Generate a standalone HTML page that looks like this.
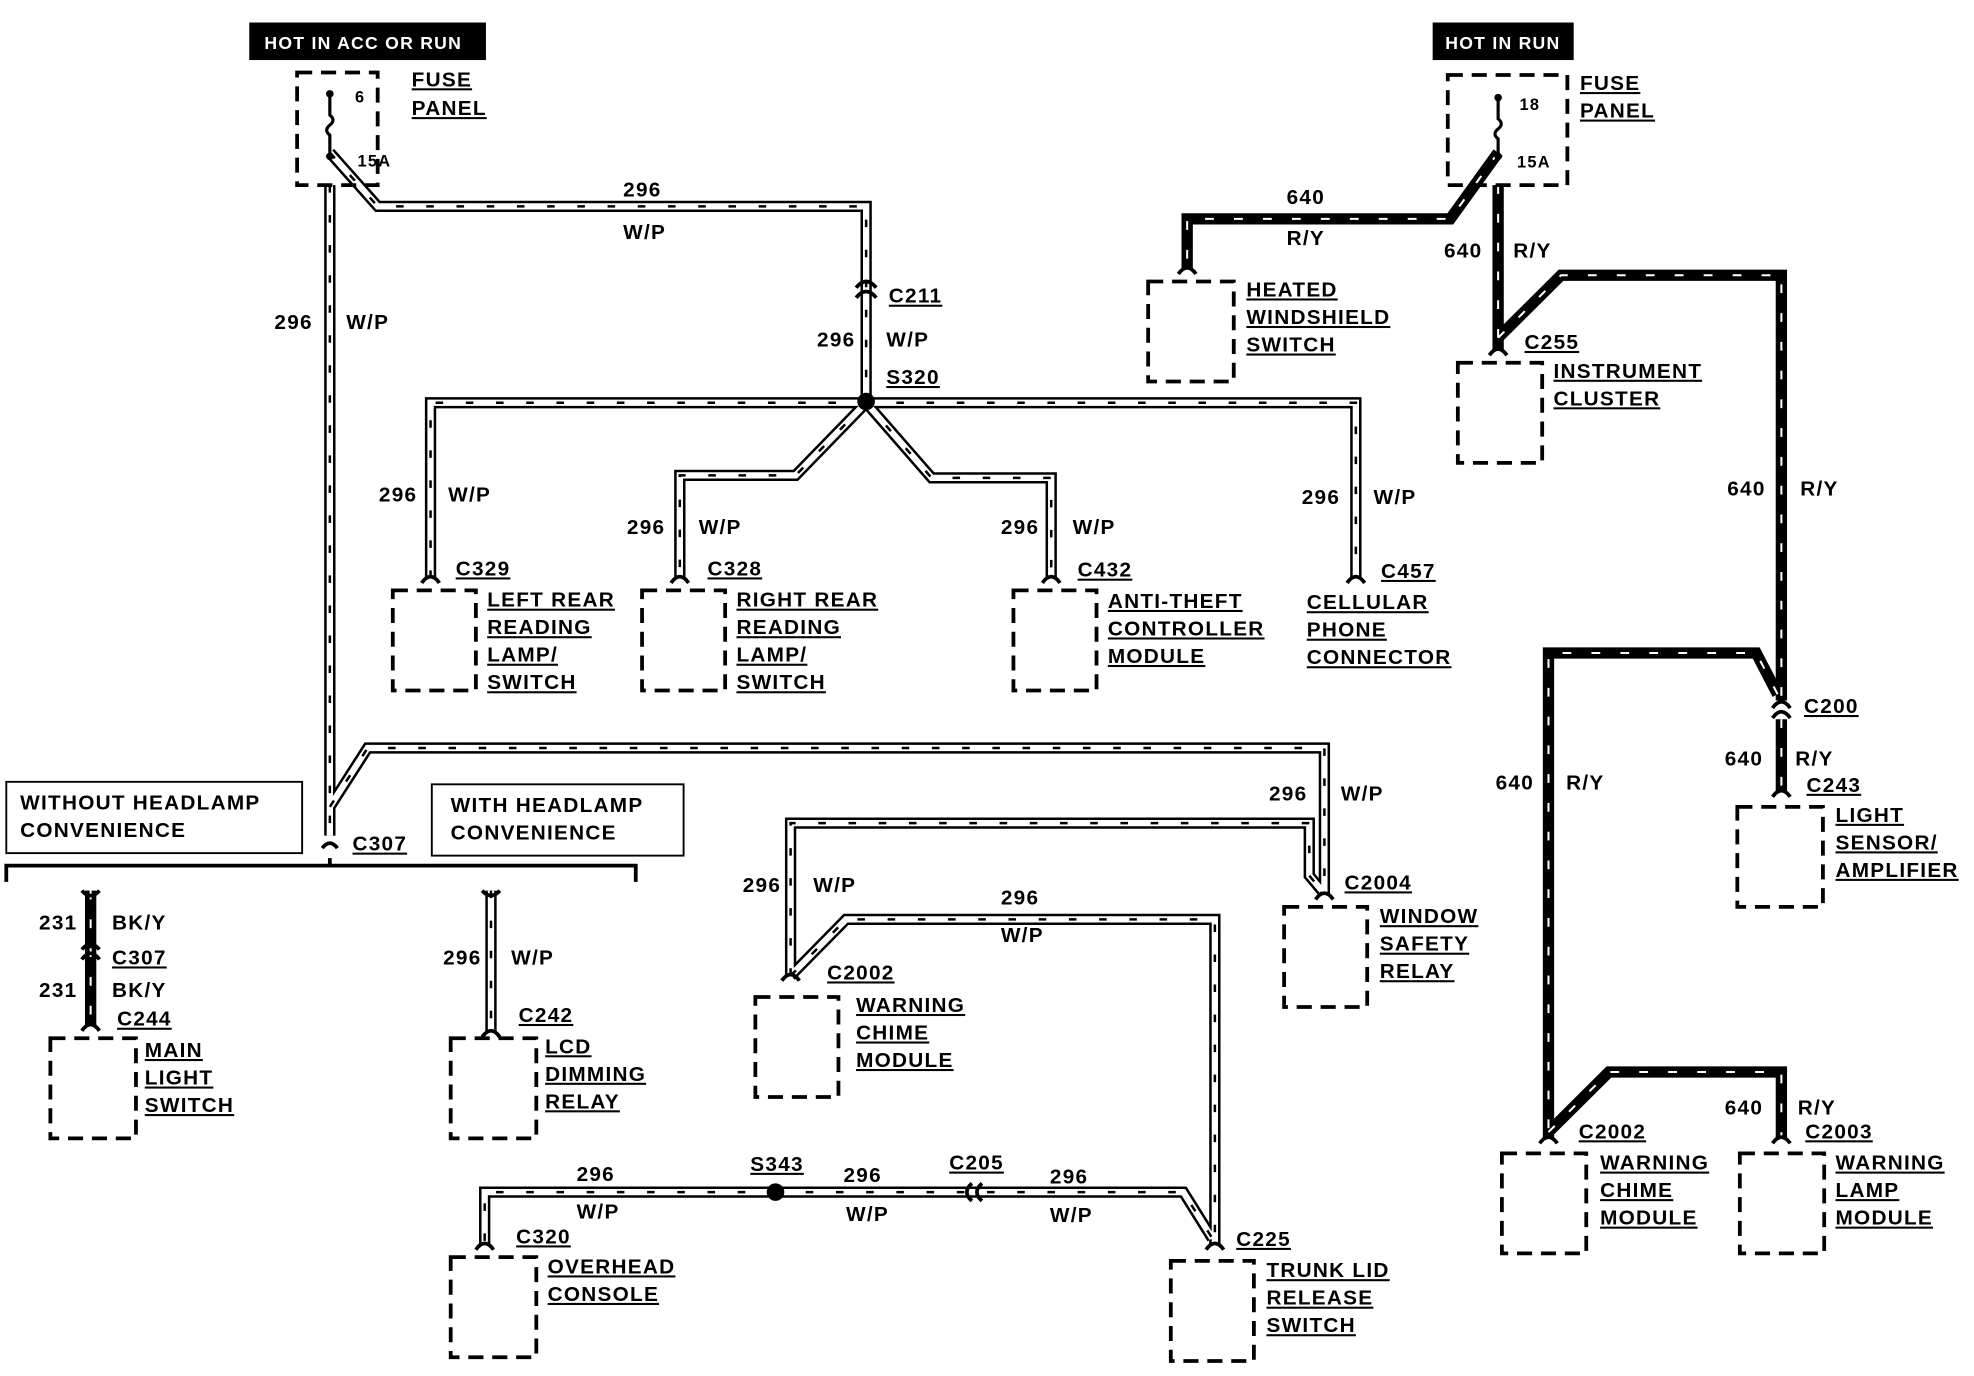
<!DOCTYPE html>
<html><head><meta charset="utf-8"><style>
html,body{margin:0;padding:0;background:#fff}
svg{display:block}
text{font-family:"Liberation Sans",sans-serif;font-weight:bold;font-size:16.5px;fill:#000;letter-spacing:1px}
.u{text-decoration:underline}
.w1{fill:none;stroke:#000;stroke-width:9;stroke-linejoin:miter}
.w2{fill:none;stroke:#fff;stroke-width:5;stroke-linejoin:miter}
.w3{fill:none;stroke:#000;stroke-width:2;stroke-dasharray:6 18}
.r1{fill:none;stroke:#000;stroke-width:9}
.r2{fill:none;stroke:#fff;stroke-width:1.6;stroke-dasharray:7 16}
.box{fill:none;stroke:#000;stroke-width:3;stroke-dasharray:12 7}
.cn{fill:none;stroke:#000;stroke-width:3}
</style></head><body>
<svg width="1974" height="1376" viewBox="0 0 1568 1100" preserveAspectRatio="none">
<defs>
<path id="a1" d="M262,148 V668"/>
<path id="a2" d="M262,122 L300,165 H688 V320"/>
<path id="a3" d="M688,322 H342 V462"/>
<path id="a4" d="M688,322 H1077 V462"/>
<path id="a5" d="M688,322 L632,380 H540 V462"/>
<path id="a6" d="M688,322 L740,382 H835 V462"/>
<path id="a7" d="M262,645 L292,598 H1052 V715"/>
<path id="a8" d="M628,780 V658 H1040 V700 L1050,712"/>
<path id="a9" d="M628,780 L672,735 H965 V995"/>
<path id="a10" d="M616,953 H385 V995"/>
<path id="a11" d="M616,953 H940 L963,990"/>
<path id="a12" d="M390,712 V825"/>
<path id="b1" d="M72,712 V820"/>
<path id="b2" d="M1190,122 L1152,175 H943 V215"/>
<path id="b3" d="M1190,148 V280"/>
<path id="b4" d="M1190,270 L1240,220 H1415 V560"/>
<path id="b5" d="M1412,555 L1395,522 H1230 V910"/>
<path id="b6" d="M1415,575 V633"/>
<path id="b7" d="M1230,905 L1278,857 H1415 V910"/>
</defs>
<g class="w1"><use href="#a1"/><use href="#a2"/><use href="#a3"/><use href="#a4"/><use href="#a5"/><use href="#a6"/><use href="#a7"/><use href="#a8"/><use href="#a9"/><use href="#a10"/><use href="#a11"/><use href="#a12"/></g>
<g class="w2"><use href="#a1"/><use href="#a2"/><use href="#a3"/><use href="#a4"/><use href="#a5"/><use href="#a6"/><use href="#a7"/><use href="#a8"/><use href="#a9"/><use href="#a10"/><use href="#a11"/><use href="#a12"/></g>
<g class="w3"><use href="#a1"/><use href="#a2"/><use href="#a3"/><use href="#a4"/><use href="#a5"/><use href="#a6"/><use href="#a7"/><use href="#a8"/><use href="#a9"/><use href="#a10"/><use href="#a11"/><use href="#a12"/></g>
<g class="r1"><use href="#b1"/><use href="#b2"/><use href="#b3"/><use href="#b4"/><use href="#b5"/><use href="#b6"/><use href="#b7"/></g>
<g class="r2"><use href="#b1"/><use href="#b2"/><use href="#b3"/><use href="#b4"/><use href="#b5"/><use href="#b6"/><use href="#b7"/></g>

<!-- splices -->
<circle cx="688" cy="321" r="7"/><circle cx="616" cy="953" r="7"/>
<!-- connectors -->
<g class="cn">
<path d="M680,238 Q688,228 696,238 M680,230 Q688,220 696,230"/>
<path d="M335,466 Q342,456 349,466"/><path d="M533,466 Q540,456 547,466"/>
<path d="M828,466 Q835,456 842,466"/><path d="M1070,466 Q1077,456 1084,466"/>
<path d="M1045,719 Q1052,709 1059,719"/><path d="M621,784 Q628,774 635,784"/>
<path d="M958,999 Q965,989 972,999"/><path d="M378,999 Q385,989 392,999"/>
<path d="M383,829 Q390,819 397,829"/><path d="M383,712 Q390,720 397,712"/>
<path d="M65,712 Q72,720 79,712"/><path d="M65,767 Q72,757 79,767 M65,759 Q72,751 79,759"/>
<path d="M65,824 Q72,814 79,824"/>
<path d="M936,219 Q943,209 950,219"/><path d="M1183,284 Q1190,274 1197,284"/>
<path d="M1408,566 Q1415,556 1422,566 M1408,574 Q1415,564 1422,574"/>
<path d="M1408,637 Q1415,627 1422,637"/><path d="M1223,914 Q1230,904 1237,914"/>
<path d="M1408,914 Q1415,904 1422,914"/>
<path d="M772,946 Q764,953 772,960 M780,946 Q772,953 780,960"/>
<path d="M256,678 Q262,670 268,678"/>
<path d="M5,705 V692 H505 V705 M262,692 V686"/>
</g>
<!-- boxes -->
<g class="box">
<rect x="236" y="58" width="64" height="90"/><rect x="1150" y="60" width="95" height="88"/>
<rect x="312" y="472" width="66" height="80"/><rect x="510" y="472" width="66" height="80"/>
<rect x="805" y="472" width="66" height="80"/><rect x="912" y="225" width="68" height="80"/>
<rect x="1158" y="290" width="67" height="80"/><rect x="1020" y="725" width="66" height="80"/>
<rect x="600" y="797" width="66" height="80"/><rect x="40" y="830" width="68" height="80"/>
<rect x="358" y="830" width="68" height="80"/><rect x="358" y="1005" width="68" height="80"/>
<rect x="930" y="1008" width="66" height="80"/><rect x="1380" y="645" width="68" height="80"/>
<rect x="1193" y="922" width="67" height="80"/><rect x="1382" y="922" width="67" height="80"/>
</g>
<!-- fuse internals -->
<g fill="none" stroke="#000" stroke-width="2.5">
<path d="M262,75 V92 q5,4 0,8 q-5,4 0,8 V125"/><path d="M1190,78 V95 q5,4 0,8 q-5,4 0,8 V125"/>
</g>
<circle cx="262" cy="75" r="3"/><circle cx="262" cy="125" r="3"/>
<circle cx="1190" cy="78" r="3"/><circle cx="1190" cy="125" r="3"/>
<text x="282" y="82" style="font-size:13px">6</text><text x="284" y="133" style="font-size:13px">15A</text>
<text x="1207" y="88" style="font-size:13px">18</text><text x="1205" y="134" style="font-size:13px">15A</text>
<!-- hot boxes -->
<rect x="198" y="18" width="188" height="30"/><text x="210" y="39" style="fill:#fff;font-size:14px">HOT IN ACC OR RUN</text>
<rect x="1138" y="18" width="112" height="30"/><text x="1148" y="39" style="fill:#fff;font-size:14px">HOT IN RUN</text>
<!-- headlamp boxes -->
<rect x="5" y="625" width="235" height="57" fill="none" stroke="#000" stroke-width="1.5"/>
<text x="16" y="647">WITHOUT HEADLAMP</text><text x="16" y="669">CONVENIENCE</text>
<rect x="343" y="627" width="200" height="57" fill="none" stroke="#000" stroke-width="1.5"/>
<text x="358" y="649">WITH HEADLAMP</text><text x="358" y="671">CONVENIENCE</text>
<!-- labels -->
<g>
<text class="u" x="327" y="69">FUSE</text><text class="u" x="327" y="92">PANEL</text>
<text class="u" x="1255" y="72">FUSE</text><text class="u" x="1255" y="94">PANEL</text>
<text x="495" y="157">296</text><text x="495" y="191">W/P</text>
<text x="218" y="263">296</text><text x="275" y="263">W/P</text>
<text class="u" x="706" y="242">C211</text><text x="649" y="277">296</text><text x="704" y="277">W/P</text>
<text class="u" x="704" y="307">S320</text>
<text x="301" y="401">296</text><text x="356" y="401">W/P</text>
<text x="498" y="427">296</text><text x="555" y="427">W/P</text>
<text x="795" y="427">296</text><text x="852" y="427">W/P</text>
<text x="1034" y="403">296</text><text x="1091" y="403">W/P</text>
<text class="u" x="362" y="460">C329</text><text class="u" x="562" y="460">C328</text>
<text class="u" x="856" y="461">C432</text><text class="u" x="1097" y="462">C457</text>
<text class="u" x="387" y="485">LEFT REAR</text><text class="u" x="387" y="507">READING</text><text class="u" x="387" y="529">LAMP/</text><text class="u" x="387" y="551">SWITCH</text>
<text class="u" x="585" y="485">RIGHT REAR</text><text class="u" x="585" y="507">READING</text><text class="u" x="585" y="529">LAMP/</text><text class="u" x="585" y="551">SWITCH</text>
<text class="u" x="880" y="486">ANTI-THEFT</text><text class="u" x="880" y="508">CONTROLLER</text><text class="u" x="880" y="530">MODULE</text>
<text class="u" x="1038" y="487">CELLULAR</text><text class="u" x="1038" y="509">PHONE</text><text class="u" x="1038" y="531">CONNECTOR</text>
<text class="u" x="280" y="680">C307</text>
<text x="1008" y="640">296</text><text x="1065" y="640">W/P</text>
<text x="590" y="713">296</text><text x="646" y="713">W/P</text>
<text x="795" y="723">296</text><text x="795" y="753">W/P</text>
<text class="u" x="1068" y="711">C2004</text>
<text class="u" x="1096" y="738">WINDOW</text><text class="u" x="1096" y="760">SAFETY</text><text class="u" x="1096" y="782">RELAY</text>
<text class="u" x="657" y="783">C2002</text>
<text class="u" x="680" y="809">WARNING</text><text class="u" x="680" y="831">CHIME</text><text class="u" x="680" y="853">MODULE</text>
<text x="31" y="743">231</text><text x="89" y="743">BK/Y</text>
<text class="u" x="89" y="771">C307</text>
<text x="31" y="797">231</text><text x="89" y="797">BK/Y</text>
<text class="u" x="93" y="820">C244</text>
<text class="u" x="115" y="845">MAIN</text><text class="u" x="115" y="867">LIGHT</text><text class="u" x="115" y="889">SWITCH</text>
<text x="352" y="771">296</text><text x="406" y="771">W/P</text>
<text class="u" x="412" y="817">C242</text>
<text class="u" x="433" y="842">LCD</text><text class="u" x="433" y="864">DIMMING</text><text class="u" x="433" y="886">RELAY</text>
<text class="u" x="596" y="936">S343</text>
<text x="458" y="944">296</text><text x="458" y="974">W/P</text>
<text x="670" y="945">296</text><text x="672" y="976">W/P</text>
<text class="u" x="754" y="935">C205</text>
<text x="834" y="946">296</text><text x="834" y="977">W/P</text>
<text class="u" x="410" y="994">C320</text>
<text class="u" x="435" y="1018">OVERHEAD</text><text class="u" x="435" y="1040">CONSOLE</text>
<text class="u" x="982" y="996">C225</text>
<text class="u" x="1006" y="1021">TRUNK LID</text><text class="u" x="1006" y="1043">RELEASE</text><text class="u" x="1006" y="1065">SWITCH</text>
<text x="1022" y="163">640</text><text x="1022" y="196">R/Y</text>
<text class="u" x="990" y="237">HEATED</text><text class="u" x="990" y="259">WINDSHIELD</text><text class="u" x="990" y="281">SWITCH</text>
<text x="1147" y="206">640</text><text x="1202" y="206">R/Y</text>
<text class="u" x="1211" y="279">C255</text>
<text class="u" x="1234" y="302">INSTRUMENT</text><text class="u" x="1234" y="324">CLUSTER</text>
<text x="1372" y="396">640</text><text x="1430" y="396">R/Y</text>
<text class="u" x="1433" y="570">C200</text>
<text x="1370" y="612">640</text><text x="1426" y="612">R/Y</text>
<text class="u" x="1435" y="633">C243</text>
<text class="u" x="1458" y="657">LIGHT</text><text class="u" x="1458" y="679">SENSOR/</text><text class="u" x="1458" y="701">AMPLIFIER</text>
<text x="1188" y="631">640</text><text x="1244" y="631">R/Y</text>
<text x="1370" y="891">640</text><text x="1428" y="891">R/Y</text>
<text class="u" x="1254" y="910">C2002</text><text class="u" x="1434" y="910">C2003</text>
<text class="u" x="1271" y="935">WARNING</text><text class="u" x="1271" y="957">CHIME</text><text class="u" x="1271" y="979">MODULE</text>
<text class="u" x="1458" y="935">WARNING</text><text class="u" x="1458" y="957">LAMP</text><text class="u" x="1458" y="979">MODULE</text>
</g>
</svg>
</body></html>
